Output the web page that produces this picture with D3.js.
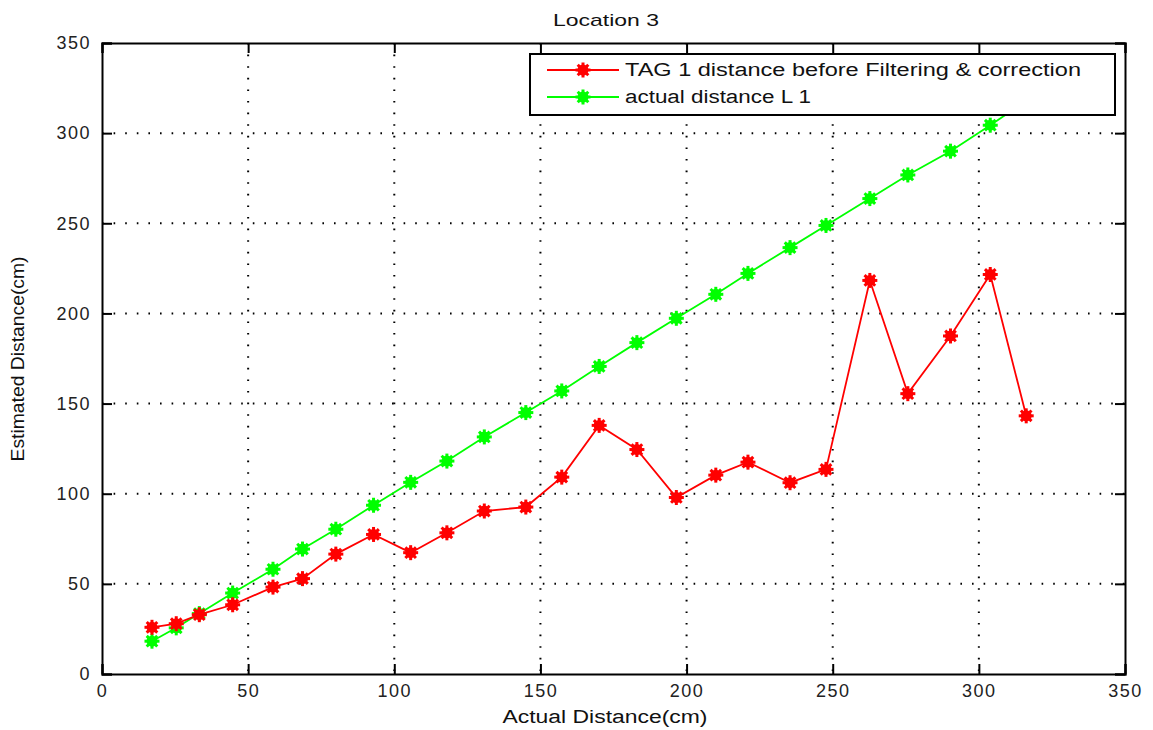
<!DOCTYPE html>
<html><head><meta charset="utf-8">
<script src="https://cdnjs.cloudflare.com/ajax/libs/d3/7.8.5/d3.min.js"></script>
<style>body{margin:0;background:#fff}svg{display:block}text{font-family:"Liberation Sans",Arial,sans-serif}</style>
</head><body><svg id="c" width="1153" height="730"></svg>
<script>
const actualX = [17.1, 25.4, 33.3, 44.7, 58.5, 68.6, 80.0, 92.9, 105.6, 118.0, 130.8, 145.0, 157.3, 170.1, 183.0, 196.5, 210.0, 221.0, 235.4, 247.7, 262.7, 275.7, 290.3, 303.9, 316.2];
const tagBefore = [25.9, 27.9, 32.9, 38.4, 48.2, 52.9, 66.5, 77.4, 67.3, 78.3, 90.4, 92.6, 109.2, 137.9, 124.5, 97.9, 110.3, 117.5, 106.1, 113.5, 218.3, 155.5, 187.5, 221.6, 143.2];
const actualL1 = [18.2, 25.6, 33.5, 44.9, 58.1, 69.3, 80.3, 93.6, 106.3, 118.1, 131.5, 145.0, 157.0, 170.6, 183.8, 197.3, 210.6, 222.2, 236.5, 248.8, 263.7, 276.8, 290.0, 304.4, 318.0];
const xTicks = [0, 50, 100, 150, 200, 250, 300, 350];
const yTicks = [0, 50, 100, 150, 200, 250, 300, 350];
const seriesNames = ["TAG 1 distance before Filtering & correction", "actual distance L 1"];
const seriesColors = ["#ff0000", "#00ff00"];
const title = "Location 3";
const xLabel = "Actual Distance(cm)";
const yLabel = "Estimated Distance(cm)";

const svg = d3.select("#c");
const L = 102, R = 1125, T = 43, B = 674;
const x = d3.scaleLinear().domain([0, 350]).range([L, R]);
const y = d3.scaleLinear().domain([0, 350]).range([B, T]);

// grid
const g = svg.append("g");
g.selectAll(".gx").data(xTicks.filter(t => t > 0 && t < 350)).join("line")
  .attr("x1", d => x(d)).attr("x2", d => x(d)).attr("y1", T).attr("y2", B)
  .attr("stroke", "#000").attr("stroke-width", 2).attr("stroke-dasharray", "1.6,10");
g.selectAll(".gy").data(yTicks.filter(t => t > 0 && t < 350)).join("line")
  .attr("y1", d => y(d)).attr("y2", d => y(d)).attr("x1", L).attr("x2", R)
  .attr("stroke", "#000").attr("stroke-width", 2).attr("stroke-dasharray", "1.6,10");

// axes (inward ticks on all sides)
const tl = 10;
const axB = svg.append("g").attr("transform", `translate(0,${B})`)
  .call(d3.axisBottom(x).tickValues(xTicks).tickSize(-tl).tickPadding(12).tickFormat(d3.format("d")));
const axT = svg.append("g").attr("transform", `translate(0,${T})`)
  .call(d3.axisTop(x).tickValues(xTicks).tickSize(-tl).tickFormat(""));
const axL = svg.append("g").attr("transform", `translate(${L},0)`)
  .call(d3.axisLeft(y).tickValues(yTicks).tickSize(-tl).tickPadding(12).tickFormat(d3.format("d")));
const axR = svg.append("g").attr("transform", `translate(${R},0)`)
  .call(d3.axisRight(y).tickValues(yTicks).tickSize(-tl).tickFormat(""));
[axB, axT, axL, axR].forEach(a => {
  a.select(".domain").attr("stroke", "#000").attr("stroke-width", 2);
  a.selectAll(".tick line").attr("stroke", "#000").attr("stroke-width", 2);
  a.selectAll("text").attr("font-size", 18).attr("fill", "#222").attr("letter-spacing", 1.5)
    .attr("font-family", '"Liberation Sans",Arial,sans-serif');
});
axB.selectAll("text").attr("dy", "0.71em").attr("transform", "translate(0,-2)");
axL.selectAll("text").attr("dx", 1);

// series
function star(sel, color) {
  sel.append("circle").attr("r", 5.5).attr("fill", color);
  [0, 45, 90, 135].forEach(a => {
    sel.append("line").attr("x1", -7.5).attr("x2", 7.5).attr("y1", 0).attr("y2", 0)
      .attr("transform", `rotate(${a})`).attr("stroke", color).attr("stroke-width", 3);
  });
}
const series = [tagBefore, actualL1];
const line = d3.line().x(d => x(d[0])).y(d => y(d[1]));
[1, 0].forEach(i => {
  const pts = actualX.map((v, k) => [v, series[i][k]]);
  svg.append("path").attr("d", line(pts)).attr("fill", "none")
    .attr("stroke", seriesColors[i]).attr("stroke-width", 1.8);
  svg.append("g").selectAll("g").data(pts).join("g")
    .attr("transform", d => `translate(${x(d[0])},${y(d[1])})`)
    .each(function() { star(d3.select(this), seriesColors[i]); });
});

// legend
const lg = svg.append("g");
lg.append("rect").attr("x", 530).attr("y", 54).attr("width", 585).attr("height", 61)
  .attr("fill", "#fff").attr("stroke", "#000").attr("stroke-width", 2);
const rowsY = [70, 97];
const txtLen = [456, 186];
seriesNames.forEach((n, i) => {
  lg.append("line").attr("x1", 547).attr("x2", 619).attr("y1", rowsY[i]).attr("y2", rowsY[i])
    .attr("stroke", seriesColors[i]).attr("stroke-width", 1.8);
  const m = lg.append("g").attr("transform", `translate(583,${rowsY[i]})`);
  star(m, seriesColors[i]);
  lg.append("text").attr("x", 625).attr("y", rowsY[i]).attr("dy", "0.36em")
    .attr("font-size", 18).attr("fill", "#111")
    .attr("textLength", txtLen[i]).attr("lengthAdjust", "spacingAndGlyphs").text(n);
});

// labels
svg.append("text").attr("x", 606).attr("y", 26).attr("text-anchor", "middle")
  .attr("font-size", 17).attr("fill", "#111").attr("textLength", 106).attr("lengthAdjust", "spacingAndGlyphs").text(title);
svg.append("text").attr("x", 605).attr("y", 723).attr("text-anchor", "middle")
  .attr("font-size", 18).attr("fill", "#111").attr("textLength", 205).attr("lengthAdjust", "spacingAndGlyphs").text(xLabel);
svg.append("text").attr("transform", "translate(24,359) rotate(-90)").attr("text-anchor", "middle")
  .attr("font-size", 18).attr("fill", "#111").attr("textLength", 205).attr("lengthAdjust", "spacingAndGlyphs").text(yLabel);
</script></body></html>
